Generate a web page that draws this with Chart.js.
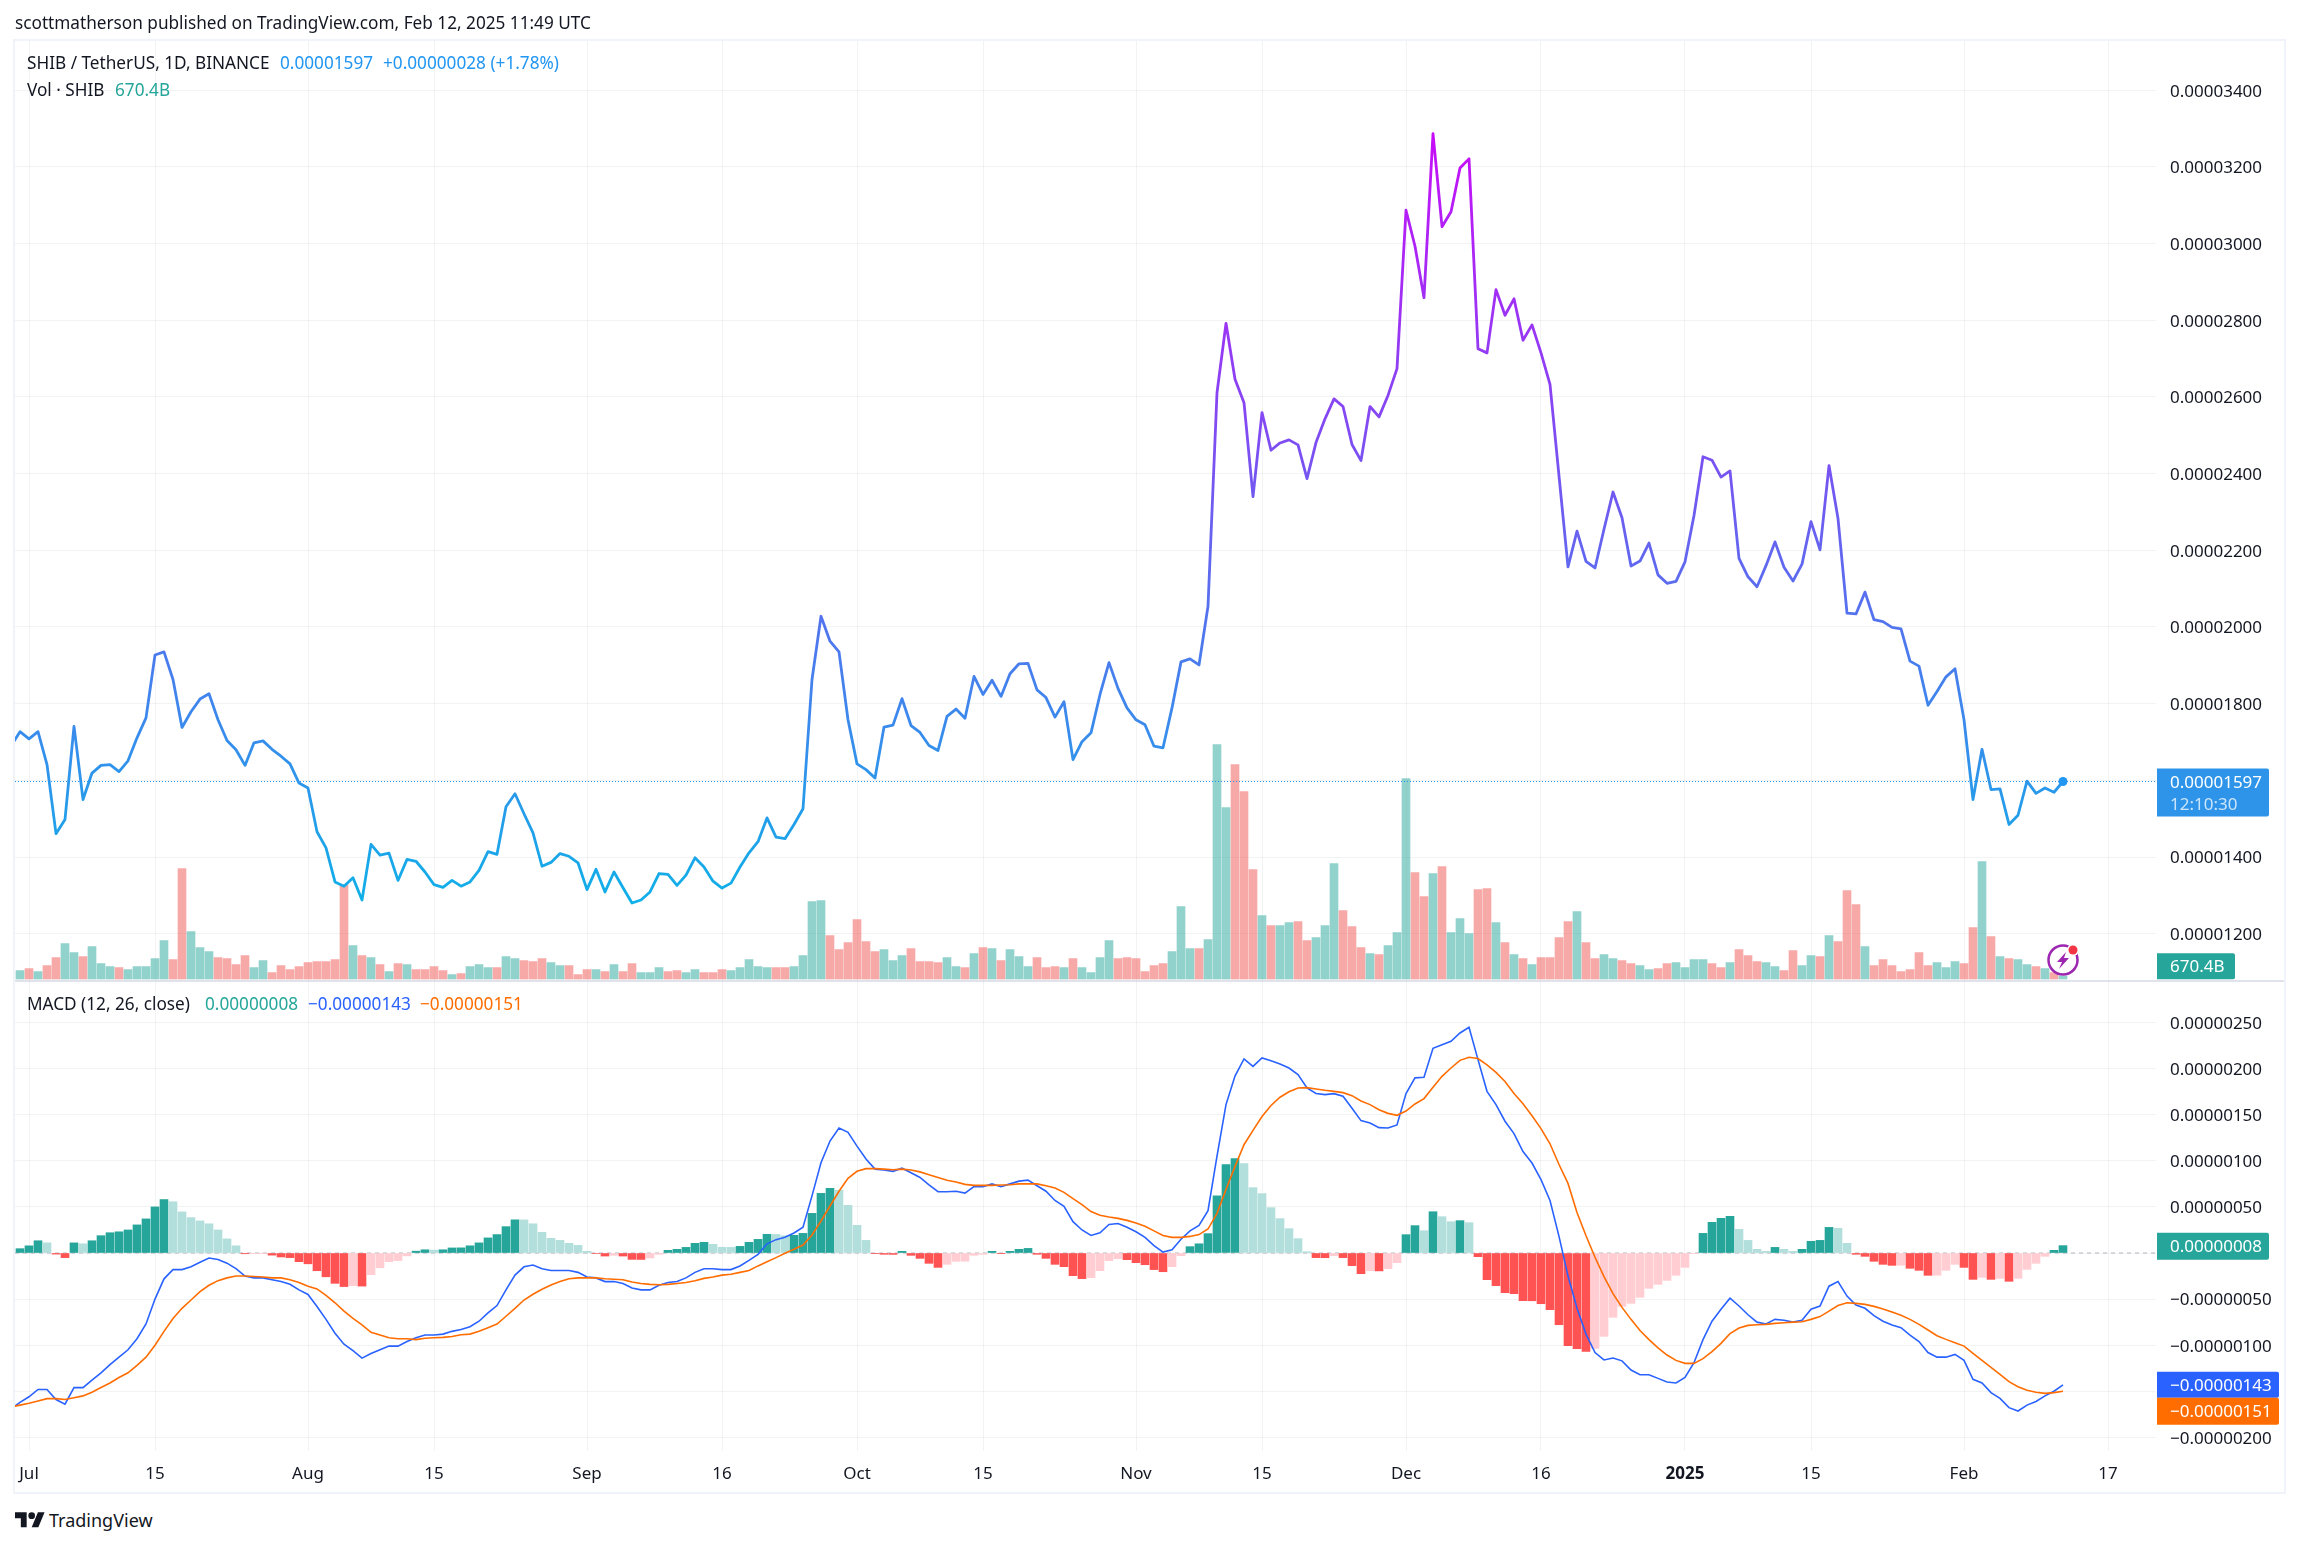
<!DOCTYPE html>
<html>
<head>
<meta charset="utf-8">
<title>SHIB / TetherUS</title>
<script src="https://cdn.jsdelivr.net/npm/chart.js@4"></script>
<style>
  body { margin: 0; background: #fff; font-family: "Noto Sans", sans-serif; color: #131722; }
  #page { position: relative; width: 2301px; height: 1546px; overflow: hidden; }
  canvas { position: absolute; left: 0; }
  #priceChart { top: 0; }
  #macdChart { top: 981px; }
  .frame { position: absolute; left: 13px; top: 39px; width: 2269px; height: 1451px; border: 2px solid #f0f3fa; }
  .sep { position: absolute; left: 15px; top: 980px; width: 2269px; height: 2px; background: #e0e3eb; }
  .txt { position: absolute; white-space: pre; font-size: 17.2px; line-height: 20px; }
  .blue { color: #2196f3; }
  .teal { color: #26a69a; }
  svg { position: absolute; }
</style>
</head>
<body>
<div id="page">
  <div class="frame"></div>
  <div class="sep"></div>
  <canvas id="priceChart" width="2301" height="984"></canvas>
  <canvas id="macdChart" width="2301" height="511"></canvas>

  <div class="txt" style="left:15px;top:13px">scottmatherson published on TradingView.com, Feb 12, 2025 11:49 UTC</div>
  <div class="txt" style="left:27px;top:53px">SHIB / TetherUS, 1D, BINANCE</div>
  <div class="txt blue" style="left:280px;top:53px">0.00001597</div>
  <div class="txt blue" style="left:383px;top:53px">+0.00000028 (+1.78%)</div>
  <div class="txt" style="left:27px;top:80px">Vol · SHIB</div>
  <div class="txt teal" style="left:115px;top:80px">670.4B</div>
  <div class="txt" style="left:27px;top:994px">MACD (12, 26, close)</div>
  <div class="txt teal" style="left:205px;top:994px">0.00000008</div>
  <div class="txt" style="left:308px;top:994px;color:#2962ff">−0.00000143</div>
  <div class="txt" style="left:420px;top:994px;color:#ff6d00">−0.00000151</div>

  <svg style="left:2046px;top:943px" width="36" height="36" viewBox="0 0 36 36">
    <circle cx="17" cy="17" r="14.5" fill="#fff" fill-opacity="0.6" stroke="#9c27b0" stroke-width="2.5"/>
    <path d="M20 9 L11 19 H16 L13 26 L23 15 H18 Z" fill="#9c27b0"/>
    <circle cx="27" cy="7" r="6" fill="#fff"/>
    <circle cx="27" cy="7" r="4.5" fill="#f23645"/>
  </svg>

  <svg style="left:15px;top:1509px" width="30" height="20" viewBox="0 0 36 24">
    <path d="M14 22H7V11H0V4h14v18zM28 22h-8l7.5-18h8L28 22z" fill="#131722"/>
    <circle cx="20" cy="8" r="4" fill="#131722"/>
  </svg>
  <div class="txt" style="left:49px;top:1507px;font-size:18px;line-height:26px">TradingView</div>
</div>

<script>
// Daily closes, Jun 30 2024 to Feb 12 2025, in units of 0.00000001
const closes = [
  1727,1708,1727,1641,1461,1498,1741,1550,1619,1639,1641,1623,1651,1711,1763,1927,1935,1863,1738,1779,
  1812,1826,1758,1704,1680,1639,1698,1703,1681,1663,1643,1593,1580,1466,1424,1335,1324,1346,1288,1433,
  1405,1410,1339,1394,1389,1361,1328,1321,1339,1324,1335,1365,1414,1407,1531,1565,1513,1463,1376,1386,
  1409,1402,1385,1315,1368,1309,1361,1320,1280,1288,1309,1357,1355,1326,1353,1398,1374,1337,1319,1332,
  1374,1411,1440,1502,1452,1448,1485,1526,1863,2028,1963,1935,1758,1643,1628,1606,1739,1744,1813,1743,
  1725,1691,1678,1767,1786,1762,1871,1824,1861,1819,1878,1904,1905,1836,1816,1765,1805,1654,1701,1724,
  1824,1907,1840,1789,1758,1745,1689,1685,1789,1909,1917,1901,2054,2611,2792,2646,2585,2340,2559,2461,
  2480,2488,2475,2387,2481,2543,2595,2575,2476,2434,2575,2548,2604,2674,3087,2993,2859,3287,3044,3083,
  3197,3221,2726,2715,2880,2813,2856,2748,2788,2715,2633,2394,2157,2250,2171,2154,2255,2352,2285,2159,
  2172,2219,2136,2114,2119,2170,2291,2444,2435,2391,2407,2179,2131,2105,2160,2222,2156,2120,2164,2275,
  2201,2421,2283,2036,2034,2091,2019,2014,1999,1995,1911,1898,1796,1832,1870,1891,1758,1550,1681,1576,
  1578,1485,1509,1598,1566,1580,1569,1597
];

// Volume in billions of SHIB
const volumes = [
  1800,2200,1600,2800,4400,7200,5400,4600,6600,3200,2600,2400,2000,2600,2600,4200,7800,4000,22200,9600,
  6400,5600,4400,4200,3000,4800,2400,3800,1400,2800,2000,2600,3400,3600,3600,4000,19000,6800,4800,4400,
  3000,1600,3200,3000,2000,2000,2600,1800,1000,1200,2600,3000,2400,2400,4600,4200,3800,3600,4200,3400,
  2800,2800,1000,2000,2000,1600,3000,1600,3200,1400,1400,2400,1600,1800,1400,2000,1400,1400,2000,1800,
  2400,4000,2600,2400,2400,2400,2600,4800,15600,15800,8800,6000,7400,12000,7600,5600,6000,3800,4800,6200,
  3600,3600,3400,4400,2600,2400,5200,6400,6200,3800,6000,4600,2600,4400,2400,2600,2400,4200,2400,1400,
  4400,7800,4200,4400,4200,1600,2800,3200,5600,14600,6200,6200,8000,47000,34400,43000,37600,22000,12800,10800,
  10800,11400,11600,7800,8400,10800,23200,13800,10600,6400,5200,5000,6800,9400,40200,21400,16600,21200,22600,9400,
  12200,9200,18000,18200,11400,7400,5000,4200,3000,4400,4400,8400,11600,13600,7400,4200,5000,4200,3800,3200,
  2800,2000,2200,3200,3400,2400,4000,4000,3200,2400,3400,6000,4800,3600,3400,2600,1800,5800,2800,4800,
  4600,8800,7600,17800,15000,6600,2800,4000,2800,1600,2000,5400,2800,3400,2400,3600,3200,10400,23600,8600,
  4600,4200,4000,3000,2600,2200,1400,670.4
];

// 1 = day closed up, 0 = day closed down
const volumeUp = [
  1,0,1,0,0,1,1,0,1,1,1,0,1,1,1,1,1,0,0,1,1,1,0,0,0,0,1,1,0,0,0,0,0,0,0,0,0,1,0,1,
  0,1,0,1,0,0,0,0,1,0,1,1,1,0,1,1,0,0,0,1,1,0,0,0,1,0,1,0,0,1,1,1,0,0,1,1,0,0,0,1,
  1,1,1,1,0,0,1,1,1,1,0,0,0,0,0,0,1,1,1,0,0,0,0,1,1,0,1,0,1,0,1,1,1,0,0,0,1,0,1,1,
  1,1,0,0,0,0,0,0,1,1,1,0,1,1,1,0,0,0,1,0,1,1,0,0,1,1,1,0,0,0,1,0,1,1,1,0,0,1,0,1,
  1,1,0,0,1,0,1,0,1,0,0,0,0,1,0,0,1,1,0,0,1,1,0,0,1,1,1,1,0,0,1,0,0,0,1,1,0,0,1,1,
  0,1,0,0,0,1,0,0,0,0,0,0,0,1,1,1,0,0,1,0,1,0,1,1,0,1,0,1
];

// MACD histogram, units of 0.00000001
const macdHist = [
  4.7,7.8,13.3,11,-1.2,-5,11,10,13.3,18.8,22,23,25,30.5,37,50,58,55.6,44.6,38.4,
  34.8,31.7,25,15.3,7.8,-0.8,-0.4,-0.2,-2.3,-4.3,-5,-9.4,-11.7,-19.2,-25.8,-32.9,-36.4,-35.4,-35.9,-23.5,
  -16,-9.4,-8.2,-3.1,2,3.5,3.1,3.5,5.5,5.6,7.8,11,16.4,20,28.6,36,35.9,31.7,22.4,15.9,
  13.7,10.5,8.3,1.8,-0.5,-3.3,-2.5,-3.3,-6.9,-7,-5.4,-1.4,2.9,4,6.1,10.5,11.6,9.4,6.2,6.1,
  7.2,11.6,14.8,20.3,20.2,18.8,19.2,21.3,43,64.7,70.2,68,51.7,30,13.7,-0.4,-1.4,-1.5,1.8,-2.5,
  -5.8,-11.2,-15.6,-12.3,-9,-8.9,-2.5,-1.4,1.8,-0.4,1.8,4,5,-1.4,-5.8,-12.3,-14.8,-24.6,-27.8,-26.8,
  -19.2,-8.3,-6.1,-7.2,-10.5,-12.7,-18,-20.3,-14.8,-2.9,6.9,10,21,62,95.8,102.4,97,70.9,64.4,49.2,
  37.3,26.4,15.6,1.4,-5,-5.1,-2.9,-5,-13.7,-22.4,-19.2,-19.4,-17,-10.5,19.9,29.7,24.2,44.8,39.4,34,
  35.1,32.9,-4,-28.9,-35.4,-43,-44.1,-51.7,-51.8,-55,-61.5,-77.8,-100.5,-103.8,-106.7,-103.4,-90.4,-69.8,-57.9,-54.6,
  -48.1,-38.3,-34,-29.7,-24.2,-15.6,-0.4,21.3,33.3,37.6,39.8,25.7,13.7,4,1.8,6.1,4,1.8,4,12.7,
  13.7,27.8,26.8,10.5,-1.4,-3.6,-9,-12.3,-13.4,-13.3,-16.6,-18.8,-24.2,-24.1,-18.8,-12.3,-15.6,-28.6,-26.4,-28.6,
  -27.5,-30.7,-27.5,-17.7,-11.2,-3.6,2.9,8
];

const macdLine = [
  -162,-156,-148,-148,-159,-164,-146,-146,-138,-130,-121,-113,-105,-93,-77,-50,-28,-18,-18,-15,
  -10,-5.5,-7,-11,-17,-25,-27,-27,-29,-31,-34,-40,-45,-58,-72,-87,-99,-106,-114,-109,
  -105,-101,-101,-96,-92,-89,-89,-88,-85,-83,-80,-74,-65,-57,-40,-24,-15,-13,-17,-19,
  -19,-19,-21,-26,-27,-31,-31,-33,-38,-40,-40,-35,-32,-31,-27,-21,-17,-17,-18,-18,
  -14,-8,-1.5,10,14.5,17,21.7,28,62,98,121.5,135.6,131,116,102,91,90,88.6,92,87,
  82,74,66.5,66.5,67,65,72,72,75,72,75,78,79,73,67,57,50.6,34,25,19,
  22,31,32,28,23,17,8,1,3.6,15,24,30,46,105,161,192,210.5,202.5,211.6,208.7,
  205,200.7,193.5,179,173,171.8,172.9,170,157,143.6,141,136,135.6,139,173,190,190.6,222,226,229.7,
  238.7,244.8,209.8,175.4,161,143,129.5,110,97.6,79.6,57,18,-25,-60,-88,-108,-116,-114,-117,-127,
  -132,-132,-136,-140,-141,-135,-119,-94,-74,-61,-49,-57.5,-67,-75,-77,-72,-73,-75,-73,-61,
  -57.5,-36,-31,-46.7,-56.4,-60,-68,-74,-78,-81,-89,-96,-108,-113,-113,-110,-116.5,-137,-141,-151.5,
  -157.7,-167.8,-171.4,-165,-161,-155,-150,-143
];

const signalLine = [
  -165,-163,-160.5,-158,-158,-159,-157,-155,-151,-146,-141,-135,-130,-122,-113,-100,-85,-71,-60,-51,
  -42,-35,-30,-27,-25,-25,-25.5,-26,-27,-27,-29,-32,-36,-39,-46,-54,-63,-71,-78,-86,
  -89,-92,-93,-93,-94,-92.5,-92,-91.5,-90.5,-88.6,-88,-85,-81,-77,-68.6,-60,-51,-44.7,-39.4,-34.7,
  -31,-28,-27,-27,-27,-28,-28.5,-29,-31.5,-33,-34,-34.5,-34,-33,-32,-30,-27.5,-26,-24,-23,
  -21,-19,-14,-9.5,-5,-0.3,4,8.7,19.5,34.7,51,67,81,88.6,91.5,91.5,91,90.4,91,90,
  88,85,82,79,77,74.5,73.4,73.4,73.4,73.8,74,75,75,75,73,70.5,65.8,59,52.4,45,
  41,39,37.6,35.4,32.5,29,24,19,17,17,18,20,26,43,69,94,117.5,133,148,160,
  169,175,179,179.4,178,176.5,175.4,174,170.7,165,161,155.5,151.5,149.4,154,161.7,167.5,179.7,191.7,200.7,
  209,212.3,211,204,196,186,173,162,149,135,118.5,96,75.5,44,18.7,-4.6,-25.6,-44,-59,-72,
  -84,-94,-103,-110.7,-116.5,-119.7,-119.7,-114.6,-107,-98,-87.5,-81.4,-78.5,-77.8,-77.4,-76.3,-75.6,-75,-74.5,-72,
  -69,-63,-57,-54,-54.6,-55.7,-57.9,-60.8,-64,-67.6,-72,-77.4,-83.5,-89.7,-93.7,-97.3,-101,-108.9,-116.5,-124,
  -131.6,-139.6,-145,-149,-151,-152.3,-151.5,-150
];

// Values of the three lines one day before the first bar, cut by the left edge
const closeBefore = 1690;
const macdBefore = -169;
const signalBefore = -167;

const priceTicks = [3400,3200,3000,2800,2600,2400,2200,2000,1800,1600,1400,1200];
const priceTicksNoLabel = [1600];
const macdTicks = [250,200,150,100,50,0,-50,-100,-150,-200];
const macdTicksNoLabel = [0,-150];

const dayTicks = [1,15,32,46,63,78,93,107,124,138,154,169,185,199,216,232];
const dayLabels = ["Jul","15","Aug","15","Sep","16","Oct","15","Nov","15","Dec","16","2025","15","Feb","17"];

// Visible range of each axis (one day is 9px wide)
const xMin = -5 / 9, xMax = 2141 / 9 - 5 / 9;
const priceMin = 1080.6, priceMax = 3528.4;
const volumeMax = 187800;
const macdMin = -214.8, macdMax = 295.1;

const FONT = '"Noto Sans", sans-serif';
const GRID = "rgba(42,46,57,0.06)";
const lastClose = closes[closes.length - 1];
const lastIndex = closes.length - 1;

function toPoints(values) {
    return values.map((v, i) => ({ x: i, y: v }));
}

function linePoints(before, values) {
    return [{ x: -1, y: before }].concat(toPoints(values));
}

function formatTick(v) {
    return (v < 0 ? "\u2212" : "") + (Math.abs(v) / 1e8).toFixed(8);
}

function xAxis(showLabels) {
    return {
        type: "linear",
        offset: false,
        min: xMin,
        max: xMax,
        afterBuildTicks: s => { s.ticks = dayTicks.map(v => ({ value: v })); },
        afterFit: s => {
            s.height = showLabels ? 41 : 0;
            s.paddingLeft = 0;
            s.paddingRight = 0;
        },
        grid: { color: GRID, drawTicks: false, offset: false },
        border: { display: false },
        ticks: {
            display: showLabels,
            autoSkip: false,
            maxRotation: 0,
            minRotation: 0,
            padding: 13,
            color: "#131722",
            font: ctx => ({ family: FONT, size: 17, weight: dayLabels[ctx.index] === "2025" ? "bold" : "normal" }),
            callback: (v, i) => dayLabels[i]
        }
    };
}

function yAxis(min, max, ticks, noLabel) {
    return {
        position: "right",
        min: min,
        max: max,
        afterBuildTicks: s => { s.ticks = ticks.map(v => ({ value: v })); },
        afterFit: s => {
            s.width = 145;
            s.paddingTop = 0;
            s.paddingBottom = 0;
        },
        grid: { color: GRID, drawTicks: false },
        border: { display: false },
        ticks: {
            padding: 14,
            color: "#131722",
            // the empty first line with a 3px line height drops the digits onto the gridline
            font: { family: FONT, size: 17, lineHeight: "3px" },
            callback: v => noLabel.includes(v) ? "" : ["", formatTick(v)]
        }
    };
}

// Small coloured boxes on the price scale
function axisTags(tags) {
    return {
        id: "axisTags",
        afterDraw(chart) {
            const c = chart.ctx;
            const left = chart.chartArea.right + 1;
            c.save();
            tags.forEach(tag => {
                const y = chart.scales[tag.axis].getPixelForValue(tag.value) + (tag.shift || 0);
                c.fillStyle = tag.color;
                c.beginPath();
                c.roundRect(left, y - tag.up, tag.width, tag.height, [0, 2, 2, 0]);
                c.fill();
                c.textBaseline = "middle";
                c.font = "17px " + FONT;
                c.fillStyle = "#fff";
                c.fillText(tag.text, left + 13, y - tag.up + 14.5);
                if (tag.sub) {
                    c.fillStyle = "rgba(255,255,255,0.75)";
                    c.fillText(tag.sub, left + 13, y - tag.up + 36.5);
                }
            });
            c.restore();
        }
    };
}

new Chart(document.getElementById("priceChart"), {
    type: "bar",
    plugins: [axisTags([
        { axis: "y", value: lastClose, color: "#2d94ea", text: "0.00001597", sub: "12:10:30", up: 13, width: 112, height: 48 },
        { axis: "yVol", value: volumes[lastIndex], color: "#26a69a", text: "670.4B", shift: -10, up: 13, width: 78, height: 26 }
    ])],
    data: {
        datasets: [
            {
                type: "line",
                data: [{ x: xMin, y: lastClose }, { x: xMax, y: lastClose }],
                yAxisID: "y",
                borderColor: "#2196f3",
                borderWidth: 1,
                borderDash: [1, 2],
                pointRadius: 0,
                order: 2
            },
            {
                type: "line",
                data: linePoints(closeBefore, closes),
                yAxisID: "y",
                borderWidth: 2.8,
                borderJoinStyle: "round",
                borderCapStyle: "round",
                tension: 0,
                // purple at the highest close down to cyan at the lowest
                borderColor: ctx => {
                    const { ctx: c, scales, chartArea } = ctx.chart;
                    if (!chartArea) return "#2196f3";
                    const g = c.createLinearGradient(0, scales.y.getPixelForValue(Math.max(...closes)), 0, scales.y.getPixelForValue(Math.min(...closes)));
                    g.addColorStop(0, "#c80cf8");
                    g.addColorStop(1, "#0fb0e8");
                    return g;
                },
                pointRadius: ctx => ctx.dataIndex === closes.length ? 4.5 : 0,
                pointBackgroundColor: "#2196f3",
                pointBorderColor: "#2196f3",
                pointBorderWidth: 0,
                order: 1
            },
            {
                type: "bar",
                data: toPoints(volumes),
                yAxisID: "yVol",
                barThickness: 8,
                backgroundColor: ctx => volumeUp[ctx.dataIndex] ? "rgba(38,166,154,0.5)" : "rgba(239,83,80,0.5)",
                order: 3
            }
        ]
    },
    options: {
        responsive: false,
        animation: false,
        events: [],
        layout: { padding: { left: 15, top: 41, right: 0, bottom: 1 } },
        plugins: {
            legend: { display: false },
            tooltip: { enabled: false }
        },
        scales: {
            x: xAxis(false),
            y: yAxis(priceMin, priceMax, priceTicks, priceTicksNoLabel),
            yVol: { display: false, min: 0, max: volumeMax }
        }
    }
});

new Chart(document.getElementById("macdChart"), {
    type: "bar",
    plugins: [axisTags([
        { axis: "y", value: macdHist[lastIndex], color: "#26a69a", text: "0.00000008", up: 13, width: 112, height: 27 },
        { axis: "y", value: macdLine[lastIndex], color: "#2962ff", text: "\u22120.00000143", up: 13, width: 122, height: 26 },
        { axis: "y", value: signalLine[lastIndex], color: "#ff6d00", text: "\u22120.00000151", shift: 19.5, up: 13, width: 122, height: 27 }
    ])],
    data: {
        datasets: [
            {
                type: "line",
                data: linePoints(signalBefore, signalLine),
                borderColor: "#ff6d00",
                borderWidth: 1.6,
                pointRadius: 0,
                order: 1
            },
            {
                type: "line",
                data: linePoints(macdBefore, macdLine),
                borderColor: "#2962ff",
                borderWidth: 1.6,
                pointRadius: 0,
                order: 2
            },
            {
                type: "bar",
                data: toPoints(macdHist),
                barThickness: 8,
                backgroundColor: ctx => {
                    const v = macdHist[ctx.dataIndex];
                    const prev = ctx.dataIndex > 0 ? macdHist[ctx.dataIndex - 1] : 0;
                    if (v >= 0) return v > prev ? "#26a69a" : "#b2dfdb";
                    return v < prev ? "#ff5252" : "#ffcdd2";
                },
                order: 3
            },
            {
                type: "line",
                data: [{ x: xMin, y: 0 }, { x: xMax, y: 0 }],
                borderColor: "#b2b5be",
                borderWidth: 1,
                borderDash: [4, 4],
                pointRadius: 0,
                order: 4
            }
        ]
    },
    options: {
        responsive: false,
        animation: false,
        events: [],
        layout: { padding: { left: 15, top: 0, right: 0, bottom: 0 } },
        plugins: {
            legend: { display: false },
            tooltip: { enabled: false }
        },
        scales: {
            x: xAxis(true),
            y: yAxis(macdMin, macdMax, macdTicks, macdTicksNoLabel)
        }
    }
});
</script>
</body>
</html>
